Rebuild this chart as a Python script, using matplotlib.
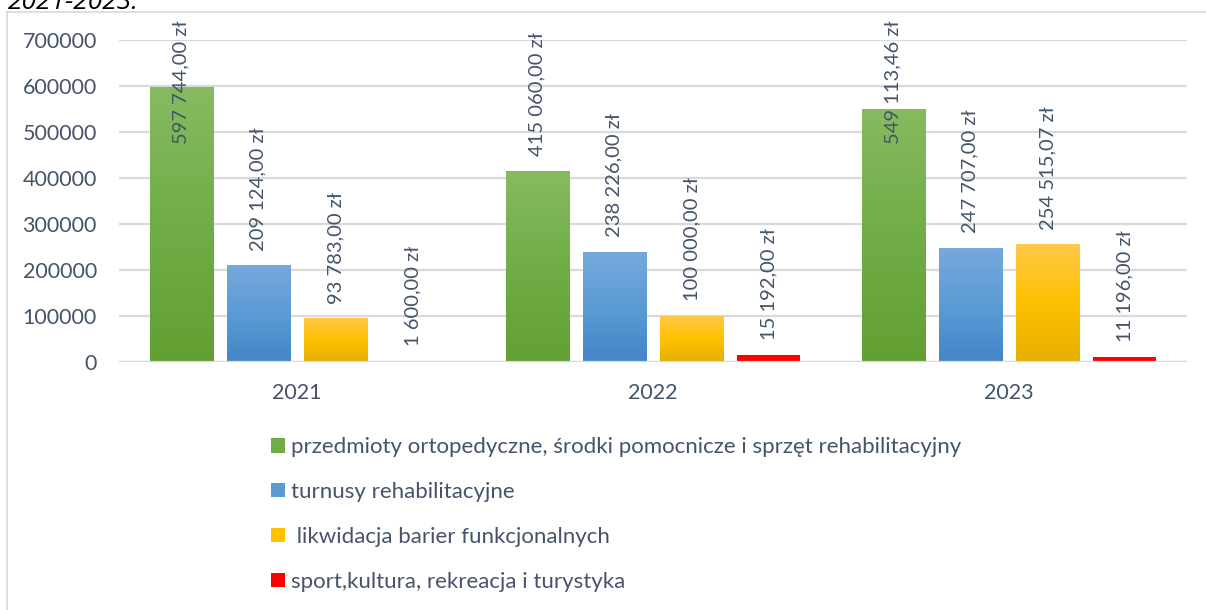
import numpy as np
import matplotlib
matplotlib.use("Agg")
import matplotlib.pyplot as plt
from matplotlib.colors import LinearSegmentedColormap
from matplotlib.patches import Patch
from matplotlib.lines import Line2D

plt.rcParams['font.family'] = ['Lato', 'DejaVu Sans']

# data
years = ["2021", "2022", "2023"]
series_names = [
    "przedmioty ortopedyczne, środki pomocnicze i sprzęt rehabilitacyjny",
    "turnusy rehabilitacyjne",
    " likwidacja barier funkcjonalnych",
    "sport,kultura, rekreacja i turystyka",
]
ortopedyczne = [597744.00, 415060.00, 549113.46]
turnusy = [209124.00, 238226.00, 247707.00]
bariery = [93783.00, 100000.00, 254515.07]
sport = [1600.00, 15192.00, 11196.00]
values = [ortopedyczne, turnusy, bariery, sport]
y_ticks = [0, 100000, 200000, 300000, 400000, 500000, 600000, 700000]

# colours (top, middle, bottom) for the gradient fill
grads = [
    ("#86BA60", "#70AD47", "#62A033"),
    ("#76A9DD", "#5B9BD5", "#4585C8"),
    ("#FFC846", "#FFC000", "#E4AF00"),
    ("#FF0000", "#FF0000", "#FF0000"),
]
text_col = "#44546A"
grid_col = "#D9D9D9"

def fmt(v):
    s = "{:,.2f}".format(v)
    whole, dec = s.split(".")
    return whole.replace(",", " ") + "," + dec + " zł"

fig = plt.figure(figsize=(12.06, 6.10), dpi=100)
ax = fig.add_axes([119 / 1206, 1 - 362 / 610, (1187 - 119) / 1206, (362 - 40) / 610])

x = np.arange(len(years))
width = 0.177
step = 0.217

labels = []
for i, vals in enumerate(values):
    pos = x + (i - 1.5) * step
    bars = ax.bar(pos, vals, width=width, color=grads[i][1], linewidth=0, zorder=2)
    cmap = LinearSegmentedColormap.from_list("g%d" % i, [grads[i][2], grads[i][1], grads[i][0]])
    grad = np.linspace(0, 1, 64).reshape(-1, 1)
    for b, v in zip(bars, vals):
        if grads[i][0] != grads[i][2]:
            ax.imshow(grad, cmap=cmap, origin="lower", aspect="auto", zorder=3,
                      extent=[b.get_x(), b.get_x() + b.get_width(), 0, b.get_height()],
                      interpolation="bilinear")
        t = ax.annotate(fmt(v), (b.get_x() + b.get_width() / 2, v), xytext=(0, 11),
                        textcoords="offset points", rotation=90, ha="center", va="bottom",
                        fontsize=14.5, color=text_col, zorder=5, annotation_clip=False)
        labels.append(t)

ax.set_xlim(-0.5, 2.5)
ax.set_ylim(0, 700000)
ax.set_xticks(x)
ax.set_xticklabels(years)
ax.set_yticks(y_ticks)
ax.tick_params(length=0, labelsize=15.5, colors=text_col)
ax.tick_params(axis="x", pad=15)
ax.tick_params(axis="y", pad=16)
ax.grid(axis="y", color=grid_col, linewidth=1.6, zorder=0)
ax.set_axisbelow(True)
# category axis line sits on top of the bars
ax.axhline(0, color=grid_col, linewidth=1.6, zorder=4)
for s in ax.spines.values():
    s.set_visible(False)

# keep labels inside the chart area (top limit ~20 px from the top)
fig.canvas.draw()
top_lim = fig.bbox.height - 20
for t in labels:
    bb = t.get_window_extent()
    if bb.y1 > top_lim:
        dy = (bb.y1 - top_lim) * 72 / fig.dpi
        t.xyann = (0, 11 - dy)

handles = [Patch(facecolor=g[1], edgecolor="none") for g in grads]
leg = fig.legend(handles, series_names, loc="upper left", bbox_to_anchor=(271 / 1206, 1 - 437 / 610),
                 frameon=False, fontsize=16, handlelength=0.64, handleheight=0.64,
                 handletextpad=0.25, labelspacing=1.12, borderpad=0, borderaxespad=0)
for txt in leg.get_texts():
    txt.set_color(text_col)

# chart border (top and left visible)
fig.add_artist(Line2D([7 / 1206, 7 / 1206], [0, 1 - 12 / 610], color=grid_col, linewidth=1.2))
fig.add_artist(Line2D([7 / 1206, 1], [1 - 12 / 610, 1 - 12 / 610], color=grid_col, linewidth=1.2))

# cut-off title from the page above
fig.text(8 / 1206, 1 - 9 / 610, "2021-2023.", fontsize=19, style="italic", color="black",
         ha="left", va="baseline", family=["Open Sans", "DejaVu Sans"])

fig.savefig("out.png", dpi=100)
